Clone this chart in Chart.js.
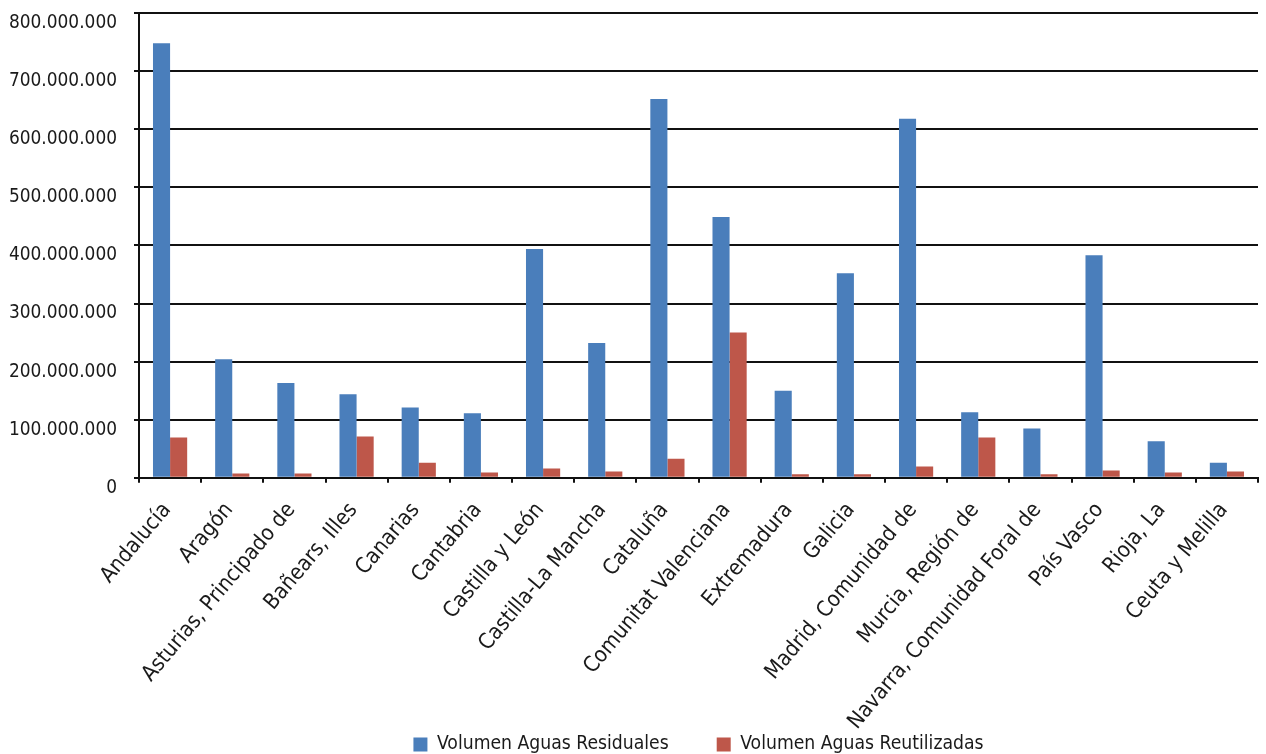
<!DOCTYPE html>
<html>
<head>
<meta charset="utf-8">
<script src="https://cdn.jsdelivr.net/npm/chart.js@4.4.1/dist/chart.umd.min.js"></script>
<style>
html, body { margin: 0; padding: 0; background: #fff; }
#wrap { width: 1266px; height: 754px; position: relative; }
</style>
</head>
<body>
<div id="wrap"><canvas id="chart"></canvas></div>
<script>
// Data
const categories = [
    'Andalucía', 'Aragón', 'Asturias, Principado de', 'Bañears, Illes', 'Canarias',
    'Cantabria', 'Castilla y León', 'Castilla-La Mancha', 'Cataluña', 'Comunitat Valenciana',
    'Extremadura', 'Galicia', 'Madrid, Comunidad de', 'Murcia, Región de',
    'Navarra, Comunidad Foral de', 'País Vasco', 'Rioja, La', 'Ceuta y Melilla'
];
const aguasResiduales = [
    748000000, 204000000, 163000000, 144000000, 121000000, 111000000,
    394000000, 232000000, 652000000, 449000000, 150000000, 352000000,
    618000000, 113000000, 85000000, 383000000, 63000000, 26000000
];
const aguasReutilizadas = [
    69500000, 7400000, 7400000, 71000000, 26000000, 9000000,
    16000000, 11000000, 33000000, 250000000, 6000000, 6000000,
    19500000, 69500000, 6000000, 12600000, 9000000, 11000000
];
const yMin = 0;
const yMax = 800000000;
const yStep = 100000000;

// pick a narrow font if one is installed, otherwise fall back to Liberation Sans
const measureCtx = document.createElement('canvas').getContext('2d');
function textWidth(font, text) {
    measureCtx.font = font;
    return measureCtx.measureText(text).width;
}
const probe = 'Volumen Aguas 800.000.000 Navarra';
let FAMILY = "'Liberation Sans', Arial, sans-serif";
let STRETCH = 'normal';
const narrowFonts = ["'Liberation Sans Narrow'", "'Arial Narrow'", "'DejaVu Sans Condensed'",
    "'Noto Sans Condensed'", "'Roboto Condensed'", "'Open Sans Condensed'"];
let found = false;
for (const f of narrowFonts) {
    if (textWidth('40px ' + f + ', monospace', probe) !== textWidth('40px monospace', probe)) {
        FAMILY = f + ", 'Liberation Sans', sans-serif";
        found = true;
        break;
    }
}
if (!found) {
    for (const f of ["'Open Sans'", "'Noto Sans'"]) {
        if (textWidth('normal condensed 40px ' + f, probe) < 0.93 * textWidth('40px ' + f, probe)) {
            FAMILY = f + ", sans-serif";
            STRETCH = 'condensed';
            break;
        }
    }
}
function fitSize(text, target) {
    const w = textWidth('normal ' + STRETCH + ' 40px ' + FAMILY, text);
    return Math.round(400 * target / w) / 10;
}
const yFontSize = fitSize('800.000.000', 108);
const xFontSize = fitSize('Navarra, Comunidad Foral de', 288);
const legendFontSize = fitSize('Volumen Aguas Residuales', 232);

function formatThousands(v) {
    return String(v).replace(/\B(?=(\d{3})+(?!\d))/g, '.');
}

// rotated tick labels are clipped to the axis box; let them run to the canvas bottom
const labelRoom = {
    id: 'labelRoom',
    afterLayout(chart) {
        chart.scales.x.bottom = chart.height;
    }
};

const ctx = document.getElementById('chart').getContext('2d');
new Chart(ctx, {
    type: 'bar',
    data: {
        labels: categories,
        datasets: [
            {
                label: 'Volumen Aguas Residuales',
                data: aguasResiduales,
                backgroundColor: '#4A7EBB',
                borderWidth: 0
            },
            {
                label: 'Volumen Aguas Reutilizadas',
                data: aguasReutilizadas,
                backgroundColor: '#BE574A',
                borderWidth: 0
            }
        ]
    },
    plugins: [labelRoom],
    options: {
        responsive: true,
        maintainAspectRatio: false,
        animation: false,
        layout: { padding: { left: 0, right: 8, top: 13, bottom: -10 } },
        datasets: { bar: { categoryPercentage: 0.55, barPercentage: 1 } },
        plugins: {
            tooltip: { enabled: false },
            legend: {
                position: 'bottom',
                fullSize: false,
                labels: {
                    boxWidth: 14,
                    boxHeight: 14,
                    padding: 48,
                    color: '#1a1a1a',
                    font: { family: FAMILY, size: legendFontSize, style: 'normal', weight: STRETCH }
                }
            }
        },
        scales: {
            x: {
                grid: { display: true, drawOnChartArea: false, offset: true, color: '#111', lineWidth: 2, tickLength: 5 },
                border: { display: true, color: '#111', width: 2 },
                ticks: {
                    autoSkip: false,
                    minRotation: 50,
                    maxRotation: 50,
                    padding: 15,
                    labelOffset: -3,
                    color: '#1a1a1a',
                    font: { family: FAMILY, size: xFontSize, style: 'normal', weight: STRETCH }
                },
                afterFit(scale) {
                    scale.height = 209;
                    scale.paddingLeft = 0;
                    scale.paddingRight = 0;
                }
            },
            y: {
                min: yMin,
                max: yMax,
                grid: { color: '#111', lineWidth: 2, tickLength: 5 },
                border: { display: true, color: '#111', width: 2 },
                ticks: {
                    stepSize: yStep,
                    padding: 17,
                    labelOffset: 10,
                    color: '#1a1a1a',
                    font: { family: FAMILY, size: yFontSize, style: 'normal', weight: STRETCH },
                    callback: v => formatThousands(v)
                },
                afterFit(scale) {
                    scale.width = 139;
                    scale.paddingTop = 0;
                    scale.paddingBottom = 0;
                }
            }
        }
    }
});
</script>
</body>
</html>
